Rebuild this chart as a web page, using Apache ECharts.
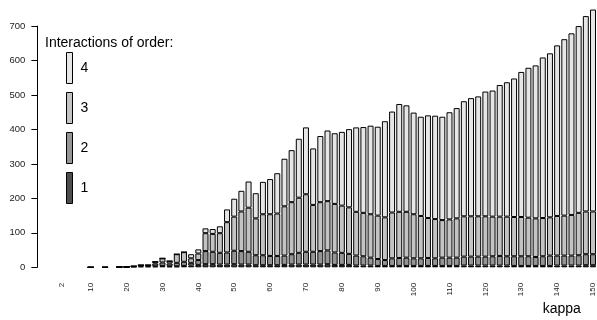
<!DOCTYPE html>
<html>
<head>
<meta charset="utf-8">
<script src="https://cdn.jsdelivr.net/npm/echarts@6/dist/echarts.min.js"></script>
<style>
  html, body { margin: 0; padding: 0; background: #ffffff; }
  #chart { width: 597px; height: 320px; }
</style>
</head>
<body>
<div id="chart"></div>
<script>
// kappa values (one stacked bar each)
const kappa = [2,4,6,8,10,12,14,16,18,20,22,24,26,28,30,32,34,36,38,40,
  42,44,46,48,50,52,54,56,58,60,62,64,66,68,70,72,74,76,78,80,
  82,84,86,88,90,92,94,96,98,100,102,104,106,108,110,112,114,116,118,120,
  122,124,126,128,130,132,134,136,138,140,142,144,146,148,150];

// number of interactions of each order per kappa (null = not available)
const order1 = [null,null,null,null,0,null,0,null,1,1,2,3,3,3,4,3,3,4,5,7,
  9,9,8,8,9,8,8,6,6,6,6,7,8,8,8,8,8,9,7,7,
  7,5,5,5,4,4,4,4,4,4,4,4,4,4,4,4,5,5,5,5,
  5,5,5,4,4,4,4,4,4,5,5,5,5,6,6];
const order2 = [null,null,null,null,0,null,0,null,0,0,1,3,3,8,10,8,10,12,8,14,
  38,36,34,35,39,39,37,29,29,27,27,27,30,34,37,37,39,40,36,35,
  32,29,27,23,20,17,22,23,24,22,22,23,22,24,24,24,26,26,26,26,
  27,28,27,28,28,28,26,28,30,29,29,29,30,32,32];
const order3 = [null,null,null,null,0,null,0,null,0,0,0,0,0,5,12,7,25,28,13,19,
  52,52,57,88,99,115,128,107,119,121,123,143,151,160,167,136,142,143,141,137,
  135,127,126,126,126,124,133,134,133,128,123,116,114,109,111,114,117,117,117,117,
  115,114,115,114,114,112,112,111,111,115,116,118,123,124,124];
const order4 = [null,null,null,null,0,null,0,null,0,0,0,0,0,0,0,0,0,0,12,12,
  14,14,20,37,52,60,76,73,94,102,117,138,151,171,194,164,192,205,205,214,
  227,245,249,257,258,279,293,313,309,295,288,298,300,300,311,320,334,343,348,362,
  366,382,390,402,421,435,444,466,476,495,512,527,542,567,586];

// kappa values that get a tick label
const labelledKappa = [2,10,20,30,40,50,60,70,80,90,100,110,120,130,140,150];

const orderNames = ['1', '2', '3', '4'];
const orderColors = ['#4D4D4D', '#959595', '#C3C3C3', '#E6E6E6'];
const orderData = [order1, order2, order3, order4];

const FONT = '"Liberation Sans", Arial, Helvetica, sans-serif';

const chart = echarts.init(document.getElementById('chart'), null, { renderer: 'canvas' });

const series = orderNames.map((name, k) => ({
  name: name,
  type: 'bar',
  stack: 'orders',
  data: orderData[k],
  clip: false,
  barCategoryGap: '16.7%',
  itemStyle: { color: orderColors[k], borderColor: '#000000', borderWidth: 1 },
  emphasis: { disabled: true }
}));

chart.setOption({
  animation: false,
  backgroundColor: '#ffffff',
  textStyle: { fontFamily: FONT },
  title: {
    text: 'Interactions of order:',
    left: 45, top: 36, padding: 0,
    textStyle: { fontFamily: FONT, fontSize: 14, fontWeight: 'normal', color: '#000' }
  },
  legend: {
    data: ['4', '3', '2', '1'],
    orient: 'vertical',
    left: 66, top: 52, padding: 0,
    itemWidth: 6, itemHeight: 31, itemGap: 8,
    icon: 'rect',
    itemStyle: { borderColor: '#000', borderWidth: 1 },
    textStyle: { fontFamily: FONT, fontSize: 14, color: '#000', padding: [0, 0, 0, 3] },
    selectedMode: false
  },
  grid: { left: 58.4, width: 540, top: 26.1, bottom: 52.7 },
  xAxis: {
    type: 'category',
    data: kappa,
    axisLine: { show: false },
    axisTick: { show: false },
    axisLabel: {
      rotate: 90,
      margin: 15.5,
      fontSize: 8,
      fontFamily: FONT,
      color: '#222',
      interval: (idx, value) => labelledKappa.includes(Number(value))
    },
    splitLine: { show: false }
  },
  yAxis: {
    type: 'value',
    min: 0, max: 700, interval: 100,
    offset: 21,
    axisLine: { show: true, lineStyle: { color: '#000', width: 1 } },
    axisTick: { show: true, length: 6, lineStyle: { color: '#000', width: 1 } },
    axisLabel: { margin: 12, fontSize: 9.5, fontFamily: FONT, color: '#222' },
    splitLine: { show: false }
  },
  graphic: [{
    type: 'text',
    x: 561.7, y: 309,
    style: {
      text: 'kappa',
      font: '14px ' + FONT,
      fill: '#000',
      textAlign: 'center',
      textVerticalAlign: 'middle'
    }
  }],
  series: series
});
</script>
</body>
</html>
